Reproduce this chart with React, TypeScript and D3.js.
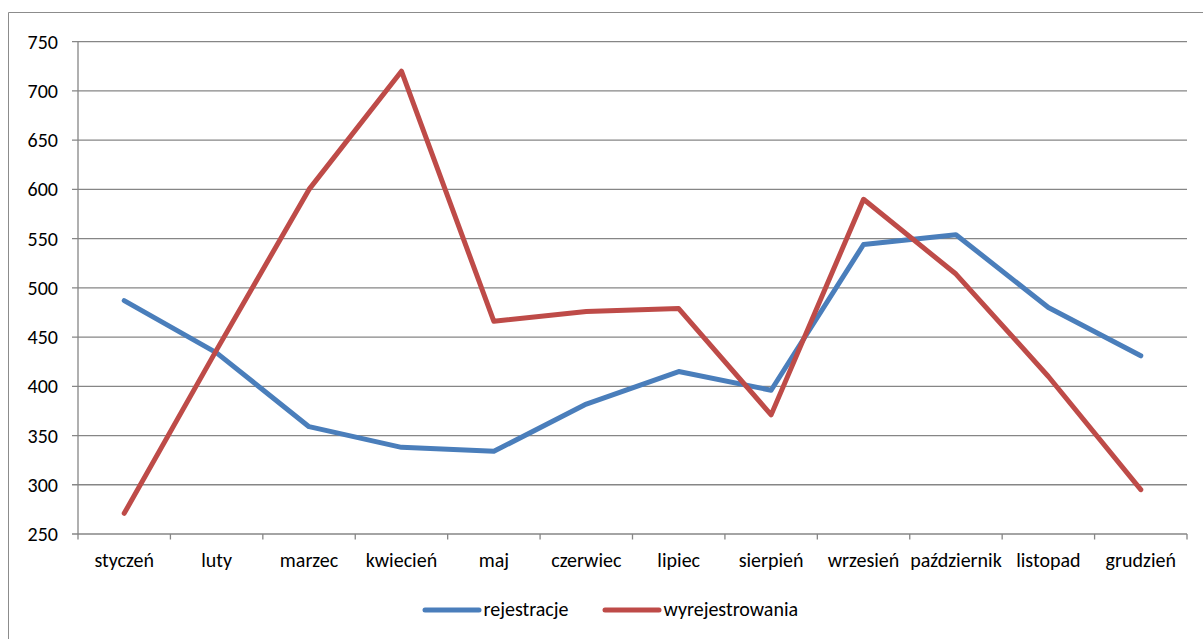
import React from "react";
import * as d3 from "d3";

const months = ["styczeń", "luty", "marzec", "kwiecień", "maj", "czerwiec", "lipiec", "sierpień", "wrzesień", "październik", "listopad", "grudzień"];
const rejestracje = [487, 434, 359, 338, 334, 382, 415, 396, 544, 554, 480, 431];
const wyrejestrowania = [271, 437, 600, 720, 466, 476, 479, 371, 590, 514, 410, 295];
const yTicks = [250, 300, 350, 400, 450, 500, 550, 600, 650, 700, 750];
const seriesNames = ["rejestracje", "wyrejestrowania"];
const seriesColors = ["#4A7EBB", "#BE4B48"];

const W = 1203;
const H = 639;
const left = 78;
const right = 1187;
const top = 41.7;
const bottom = 534;
const FONT = "Carlito, Calibri, 'Liberation Sans', Arial, sans-serif";
const FS = 20;

export default function App() {
  const x = d3.scaleBand<string>().domain(months).range([left, right]).paddingInner(0).paddingOuter(0);
  const y = d3.scaleLinear().domain([250, 750]).range([bottom, top]);
  const line = d3
    .line<number>()
    .x((_, i) => (x(months[i]) as number) + x.bandwidth() / 2)
    .y((d) => y(d));
  const series = [rejestracje, wyrejestrowania];
  const boundaries = d3.range(months.length + 1).map((i) => left + i * x.bandwidth());
  const grid = "#868686";

  return (
    <svg width={W} height={H} style={{ position: "absolute", left: 0, top: 0, display: "block" }}>
      <rect x={0} y={0} width={W} height={H} fill="#ffffff" />
      <path d={`M8.5,${H + 2} V12.5 H${W + 2}`} fill="none" stroke="#8c8c8c" strokeWidth={1} />
      {yTicks.map((t) => (
        <line key={t} x1={72} x2={right} y1={y(t)} y2={y(t)} stroke={grid} strokeWidth={1.3} />
      ))}
      <line x1={left} x2={left} y1={top} y2={bottom} stroke={grid} strokeWidth={1.3} />
      {boundaries.map((bx, i) => (
        <line key={i} x1={bx} x2={bx} y1={bottom} y2={bottom + 5.5} stroke={grid} strokeWidth={1.3} />
      ))}
      {yTicks.map((t) => (
        <text key={t} x={58} y={y(t)} dy="0.35em" textAnchor="end" fontFamily={FONT} fontSize={FS} fill="#000">
          {t}
        </text>
      ))}
      {months.map((m) => (
        <text key={m} x={(x(m) as number) + x.bandwidth() / 2} y={566.5} textAnchor="middle" fontFamily={FONT} fontSize={FS} fill="#000">
          {m}
        </text>
      ))}
      {series.map((s, i) => (
        <path key={i} d={line(s) as string} fill="none" stroke={seriesColors[i]} strokeWidth={5} strokeLinejoin="round" strokeLinecap="round" />
      ))}
      {seriesNames.map((n, i) => {
        const lx = i === 0 ? 425 : 605;
        return (
          <g key={n}>
            <line x1={lx} x2={lx + 54} y1={610} y2={610} stroke={seriesColors[i]} strokeWidth={5} strokeLinecap="round" />
            <text x={lx + 58.5} y={615.5} fontFamily={FONT} fontSize={FS} fill="#000">
              {n}
            </text>
          </g>
        );
      })}
    </svg>
  );
}
